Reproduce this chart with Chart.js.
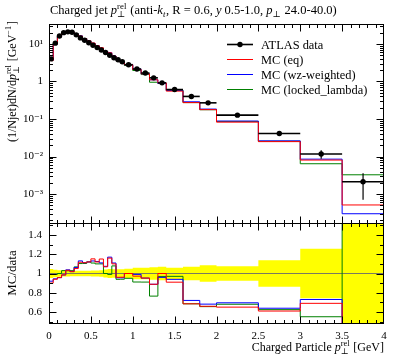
<!DOCTYPE html>
<html><head><meta charset="utf-8">
<script src="https://cdn.jsdelivr.net/npm/chart.js@4.4.0/dist/chart.umd.min.js"></script>
<style>html,body{margin:0;padding:0;background:#fff}canvas{display:block}</style>
</head><body>
<canvas id="c" width="397" height="358"></canvas>
<script>
// ---- data ----
const binEdges = [0,0.05,0.1,0.15,0.2,0.25,0.3,0.35,0.4,0.45,0.5,0.55,0.6,0.65,0.7,0.75,0.8,0.85,0.9,1.0,1.1,1.2,1.3,1.4,1.6,1.8,2.0,2.5,3.0,3.5,4.0];
const dataValues = [4.0,10.5,16.3,20,21,20.5,17.5,14.5,12.5,10.8,9.2,8.0,6.9,5.9,5.0,4.3,3.8,3.35,2.8,2.15,1.68,1.25,0.92,0.61,0.40,0.27,0.127,0.041,0.0117,0.00214];
const dataErrors = [0.19,0.42,0.57,0.60,0.63,0.57,0.49,0.41,0.35,0.32,0.28,0.24,0.24,0.24,0.23,0.19,0.17,0.15,0.14,0.13,0.10,0.081,0.064,0.037,0.028,0.023,0.0095,0.0057,0.0030,0.00143];
const mcEq = [3.60,9.87,15.6,19.7,21.7,20.9,18.4,16.2,13.9,12.1,10.6,8.96,7.94,6.31,5.80,4.73,3.65,3.22,2.80,2.09,1.60,1.11,0.920,0.555,0.274,0.178,0.0826,0.0250,0.00807,0.000514];
const mcWz = [3.68,9.92,15.6,19.7,21.8,20.9,18.6,16.4,13.9,12.1,10.4,9.0,7.66,6.34,5.85,4.77,3.63,3.20,2.80,2.13,1.60,1.11,0.883,0.573,0.288,0.184,0.0883,0.0262,0.00854,0.000300];
const mcLocked = [3.96,10.4,16.3,20.6,21.6,21.1,18.7,16.0,13.8,12.1,10.2,8.80,7.59,5.90,4.95,4.64,3.57,3.15,2.66,1.96,1.53,0.956,0.892,0.592,0.274,0.177,0.0864,0.0256,0.00644,0.00327];
const xTickValues = [0,0.5,1,1.5,2,2.5,3,3.5,4];
const xTickLabels = ['0','0.5','1','1.5','2','2.5','3','3.5','4'];
const yMainTicks = [1e-3,1e-2,1e-1,1,10];
const yMainTickLabels = ['10\u207B\u00B3','10\u207B\u00B2','10\u207B\u00B9','1','10\u00B9'];
const yRatioTicks = [0.6,0.8,1.0,1.2,1.4];
const yRatioTickLabels = ['0.6','0.8','1','1.2','1.4'];
const seriesLabels = ['ATLAS data','MC (eq)','MC (wz-weighted)','MC (locked_lambda)'];
const seriesColors = ['#000000','#ff0000','#0000ff','#008000'];

// ---- derived ----
const SERIF = '"Liberation Serif", "DejaVu Serif", serif';
const binCenters = dataValues.map((_, i) => (binEdges[i] + binEdges[i + 1]) / 2);
const stepSeries = vals => binEdges.map((e, i) => ({x: e, y: vals[Math.min(i, vals.length - 1)]}));
const ratioOf = mc => mc.map((v, i) => v / dataValues[i]);
const bandUp = dataErrors.map((e, i) => 1 + e / dataValues[i]);
const bandLo = dataErrors.map((e, i) => 1 - e / dataValues[i]);

const stepDs = (label, vals, color, axis) => ({
  label, data: stepSeries(vals), xAxisID: 'x', yAxisID: axis,
  borderColor: color, borderWidth: 1, pointRadius: 0, stepped: 'before', fill: false
});

const datasets = [
  {label: seriesLabels[0], data: binCenters.map((x, i) => ({x, y: dataValues[i]})), xAxisID: 'x', yAxisID: 'ym',
   showLine: false, pointRadius: 2.7, pointBackgroundColor: '#000', pointBorderWidth: 0, borderColor: '#000'},
  stepDs(seriesLabels[1], mcEq, seriesColors[1], 'ym'),
  stepDs(seriesLabels[2], mcWz, seriesColors[2], 'ym'),
  stepDs(seriesLabels[3], mcLocked, seriesColors[3], 'ym'),
  stepDs('r eq', ratioOf(mcEq), seriesColors[1], 'yr'),
  stepDs('r wz', ratioOf(mcWz), seriesColors[2], 'yr'),
  stepDs('r locked', ratioOf(mcLocked), seriesColors[3], 'yr'),
  {label: 'unity', data: [{x: 0, y: 1}, {x: 4, y: 1}], xAxisID: 'x', yAxisID: 'yr', borderColor: '#7a7a60', borderWidth: 1, pointRadius: 0, fill: false},
  {label: 'band up', data: stepSeries(bandUp), xAxisID: 'x', yAxisID: 'yr', stepped: 'before', borderColor: 'rgba(0,0,0,0)', borderWidth: 0, pointRadius: 0, fill: '+1', backgroundColor: '#ffff00'},
  {label: 'band lo', data: stepSeries(bandLo), xAxisID: 'x', yAxisID: 'yr', stepped: 'before', borderColor: 'rgba(0,0,0,0)', borderWidth: 0, pointRadius: 0, fill: false}
];

// ---- rich text helper ----
function runWidth(c, r, size) {
  if (r.t !== undefined) { c.font = (r.it ? 'italic ' : '') + size + 'px ' + SERIF; return c.measureText(r.t).width; }
  const s = size * 0.7; let w = 0;
  if (r.sub) { c.font = (r.subIt ? 'italic ' : '') + s + 'px ' + SERIF; w = Math.max(w, c.measureText(r.sub).width); }
  if (r.sup) { c.font = s + 'px ' + SERIF; w = Math.max(w, c.measureText(r.sup).width); }
  return w + 0.8;
}
function drawRich(c, runs, ax, ay, size, align, rotate) {
  c.save();
  const W = runs.reduce((a, r) => a + runWidth(c, r, size), 0);
  c.translate(ax, ay);
  if (rotate) c.rotate(-Math.PI / 2);
  let x = align === 'right' ? -W : align === 'center' ? -W / 2 : 0;
  c.fillStyle = '#000'; c.textBaseline = 'alphabetic'; c.textAlign = 'left';
  for (const r of runs) {
    const w = runWidth(c, r, size);
    if (r.t !== undefined) { c.font = (r.it ? 'italic ' : '') + size + 'px ' + SERIF; c.fillText(r.t, x, 0); }
    else {
      const s = size * 0.7;
      if (r.sub) { c.font = (r.subIt ? 'italic ' : '') + s + 'px ' + SERIF; c.fillText(r.sub, x, size * 0.25); }
      if (r.sup) { c.font = s + 'px ' + SERIF; c.fillText(r.sup, x, -size * 0.4); }
    }
    x += w;
  }
  c.restore();
}

const titleRuns = [{t: 'Charged jet '}, {t: 'p', it: 1}, {sub: '\u22A5', sup: 'rel'}, {t: ' (anti-'}, {t: 'k', it: 1}, {sub: 't', subIt: 1},
  {t: ', R = 0.6, '}, {t: 'y', it: 1}, {t: ' 0.5-1.0, '}, {t: 'p', it: 1}, {sub: '\u22A5'}, {t: ' 24.0-40.0)'}];
const yLabelRuns = [{t: '(1/Njet)dN/d'}, {t: 'p', it: 1}, {sub: '\u22A5', sup: 'rel'}, {t: ' [GeV'}, {sup: '\u22121'}, {t: ']'}];
const xLabelRuns = [{t: 'Charged Particle '}, {t: 'p', it: 1}, {sub: '\u22A5', sup: 'rel'}, {t: ' [GeV]'}];

// ---- plugins ----
const bandClip = {
  id: 'bandClip',
  beforeDatasetsDraw(chart) {
    const c = chart.ctx, ya = chart.scales.yr, xa = chart.scales.x;
    c.save(); c.beginPath(); c.rect(xa.left, ya.top, xa.right - xa.left, ya.bottom - ya.top); c.clip();
  },
  afterDatasetDraw(chart, args) { if (args.index === 8) chart.ctx.restore(); }
};

const decor = {
  id: 'decor',
  afterDatasetsDraw(chart) {
    const c = chart.ctx, xa = chart.scales.x, ya = chart.scales.ym;
    c.save();
    c.beginPath(); c.rect(xa.left, ya.top, xa.right - xa.left, ya.bottom - ya.top); c.clip();
    c.strokeStyle = '#000';
    for (let i = 0; i < dataValues.length; i++) {
      const xl = xa.getPixelForValue(binEdges[i]), xr = xa.getPixelForValue(binEdges[i + 1]);
      const xc = xa.getPixelForValue(binCenters[i]);
      const yc = ya.getPixelForValue(dataValues[i]);
      c.lineWidth = 1.6; c.beginPath(); c.moveTo(xl, yc); c.lineTo(xr, yc); c.stroke();
      c.lineWidth = 1.2; c.beginPath();
      c.moveTo(xc, ya.getPixelForValue(dataValues[i] + dataErrors[i]));
      c.lineTo(xc, ya.getPixelForValue(Math.max(dataValues[i] - dataErrors[i], 1e-9))); c.stroke();
    }
    c.restore();
  },
  afterDraw(chart) {
    const c = chart.ctx, xa = chart.scales.x, ym = chart.scales.ym, yr = chart.scales.yr;
    c.save();
    c.strokeStyle = '#000'; c.lineWidth = 1;
    const L = Math.round(xa.left) + 0.5, R = Math.round(xa.right) - 0.5;
    const Tm = Math.round(ym.top) + 0.5, Bm = Math.round(ym.bottom) + 0.5;
    const Tr = Math.round(yr.top) + 0.5, Br = Math.round(yr.bottom) - 0.5;
    c.strokeRect(L, Tm, R - L, Bm - Tm);
    c.strokeRect(L, Tr, R - L, Br - Tr);
    const line = (x1, y1, x2, y2) => { c.beginPath(); c.moveTo(x1, y1); c.lineTo(x2, y2); c.stroke(); };
    // x ticks
    for (let k = 1; k < 40; k++) {
      const px = Math.round(xa.getPixelForValue(k / 10)) + 0.5;
      const len = k % 5 === 0 ? 7 : 3.5;
      line(px, Tm, px, Tm + len); line(px, Bm, px, Bm - len);
      line(px, Tr, px, Tr + len); line(px, Br, px, Br - len);
    }
    // main y ticks
    for (let d = -4; d <= 1; d++) for (let m = 1; m <= 9; m++) {
      const v = m * Math.pow(10, d);
      if (v <= ym.min || v >= ym.max) continue;
      const py = Math.round(ym.getPixelForValue(v)) + 0.5;
      const len = m === 1 ? 7 : 3.5;
      line(L, py, L + len, py); line(R, py, R - len, py);
    }
    // ratio y ticks
    for (let k = 5; k <= 15; k++) {
      const v = k / 10;
      if (v <= yr.min || v >= yr.max) continue;
      const py = Math.round(yr.getPixelForValue(v)) + 0.5;
      const len = k % 2 === 0 ? 7 : 3.5;
      line(L, py, L + len, py); line(R, py, R - len, py);
    }
    // legend
    const rows = [44, 59, 74, 89];
    for (let i = 0; i < 4; i++) {
      c.strokeStyle = seriesColors[i]; c.lineWidth = i === 0 ? 1.6 : 1;
      line(227, rows[i] + 0.5, 253, rows[i] + 0.5);
      if (i === 0) { c.fillStyle = '#000'; c.beginPath(); c.arc(240, rows[i] + 0.5, 2.7, 0, 2 * Math.PI); c.fill(); }
      c.fillStyle = '#000'; c.font = '12.4px ' + SERIF; c.textBaseline = 'alphabetic'; c.textAlign = 'left';
      c.fillText(seriesLabels[i], 261, rows[i] + 4.5);
    }
    // titles
    drawRich(c, titleRuns, 50, 14, 12.5, 'left', false);
    drawRich(c, yLabelRuns, 16, 21, 12, 'right', true);
    drawRich(c, [{t: 'MC/data'}], 16, 273, 13, 'center', true);
    drawRich(c, xLabelRuns, 384, 351, 12, 'right', false);
    c.restore();
  }
};

const tickFont = {family: SERIF, size: 11};
new Chart(document.getElementById('c').getContext('2d'), {
  type: 'line',
  data: {datasets},
  options: {
    responsive: false, animation: false, devicePixelRatio: 1,
    layout: {padding: {left: 0, right: 13, top: 24, bottom: 0}},
    plugins: {legend: {display: false}, tooltip: {enabled: false}, title: {display: false}},
    elements: {line: {tension: 0}},
    scales: {
      x: {type: 'linear', min: 0, max: 4, position: 'bottom',
          grid: {display: false, drawTicks: false}, border: {display: false},
          afterBuildTicks: s => { s.ticks = xTickValues.map(v => ({value: v})); },
          ticks: {padding: 6, color: '#000', font: tickFont, maxRotation: 0, autoSkip: false,
                  callback: v => xTickLabels[xTickValues.indexOf(v)]},
          afterFit: s => { s.height = 34; }},
      yr: {type: 'linear', position: 'left', stack: 'panels', stackWeight: 101, min: 0.475, max: 1.525,
           grid: {display: false, drawTicks: false}, border: {display: false},
           afterBuildTicks: s => { s.ticks = yRatioTicks.map(v => ({value: v})); },
           ticks: {padding: 7, color: '#000', font: tickFont, autoSkip: false,
                   callback: v => yRatioTickLabels[yRatioTicks.indexOf(v)]},
           afterFit: s => { s.width = 49; }},
      ym: {type: 'logarithmic', position: 'left', stack: 'panels', stackWeight: 199, min: 1.7e-4, max: 34,
           grid: {display: false, drawTicks: false}, border: {display: false},
           afterBuildTicks: s => { s.ticks = yMainTicks.map(v => ({value: v})); },
           ticks: {padding: 6, color: '#000', font: tickFont, autoSkip: false,
                   callback: v => yMainTickLabels[yMainTicks.indexOf(v)]},
           afterFit: s => { s.width = 49; }}
    }
  },
  plugins: [bandClip, decor]
});
</script>
</body></html>
